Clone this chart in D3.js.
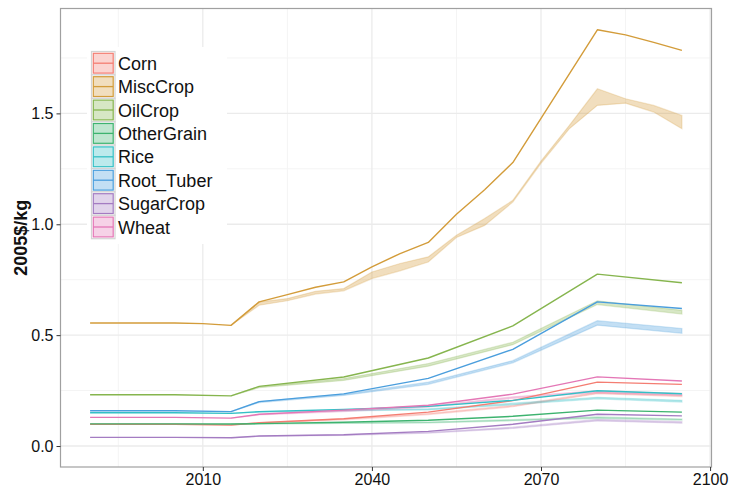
<!DOCTYPE html>
<html>
<head>
<meta charset="utf-8">
<script src="https://cdn.jsdelivr.net/npm/d3@7"></script>
<style>
  html, body { margin: 0; padding: 0; background: #fff; }
  svg { display: block; font-family: "Liberation Sans", Arial, Helvetica, sans-serif; }
</style>
</head>
<body>
<svg id="chart" width="731" height="491"></svg>
<script>
// Crop categories and their colours
const crops = ["Corn", "MiscCrop", "OilCrop", "OtherGrain", "Rice", "Root_Tuber", "SugarCrop", "Wheat"];
const colors = ["#F47D72", "#D39C3A", "#86B54E", "#3DB36F", "#34C0C6", "#4A9EDD", "#A47CC2", "#E477B6"];

// Reference-scenario price paths (2005$/kg)
const years = [1990, 2005, 2015, 2020, 2035, 2050, 2065, 2080, 2095];
const corn       = [0.098, 0.098, 0.095, 0.105, 0.123, 0.153, 0.205, 0.288, 0.278];
const oilCrop    = [0.231, 0.231, 0.226, 0.269, 0.311, 0.397, 0.542, 0.775, 0.736];
const otherGrain = [0.100, 0.100, 0.099, 0.101, 0.107, 0.116, 0.134, 0.162, 0.153];
const rice       = [0.150, 0.150, 0.147, 0.155, 0.165, 0.179, 0.206, 0.249, 0.236];
const rootTuber  = [0.159, 0.159, 0.155, 0.200, 0.235, 0.305, 0.436, 0.650, 0.620];
const sugarCrop  = [0.039, 0.039, 0.037, 0.045, 0.051, 0.066, 0.098, 0.143, 0.136];
const wheat      = [0.129, 0.129, 0.126, 0.143, 0.162, 0.184, 0.234, 0.312, 0.293];

const miscYears = [1990, 2005, 2010, 2015, 2020, 2025, 2030, 2035, 2040, 2045, 2050, 2055, 2060, 2065, 2080, 2085, 2090, 2095];
const miscCrop  = [0.555, 0.555, 0.552, 0.544, 0.650, 0.683, 0.716, 0.740, 0.808, 0.868, 0.918, 1.045, 1.156, 1.278, 1.877, 1.854, 1.820, 1.784];

// Policy-scenario ranges (low / high)
const bandYears = [2015, 2020, 2035, 2050, 2065, 2080, 2095];
const cornLo       = [0.095, 0.103, 0.118, 0.142, 0.177, 0.236, 0.223];
const cornHi       = [0.095, 0.105, 0.122, 0.147, 0.183, 0.243, 0.230];
const oilCropLo    = [0.226, 0.263, 0.296, 0.360, 0.457, 0.638, 0.595];
const oilCropHi    = [0.226, 0.268, 0.304, 0.372, 0.468, 0.655, 0.612];
const otherGrainLo = [0.099, 0.099, 0.102, 0.104, 0.114, 0.125, 0.117];
const otherGrainHi = [0.099, 0.101, 0.105, 0.108, 0.119, 0.131, 0.122];
const riceLo       = [0.147, 0.152, 0.158, 0.163, 0.186, 0.213, 0.198];
const riceHi       = [0.147, 0.155, 0.162, 0.168, 0.193, 0.220, 0.206];
const rootTuberLo  = [0.155, 0.196, 0.228, 0.278, 0.375, 0.545, 0.508];
const rootTuberHi  = [0.155, 0.200, 0.234, 0.288, 0.385, 0.565, 0.530];
const sugarCropLo  = [0.037, 0.044, 0.048, 0.058, 0.079, 0.113, 0.103];
const sugarCropHi  = [0.037, 0.045, 0.050, 0.062, 0.085, 0.120, 0.110];
const wheatLo      = [0.126, 0.140, 0.155, 0.175, 0.215, 0.240, 0.228];
const wheatHi      = [0.126, 0.143, 0.160, 0.180, 0.222, 0.250, 0.238];

const miscBandYears = [2015, 2020, 2025, 2030, 2035, 2040, 2045, 2050, 2055, 2060, 2065, 2070, 2075, 2080, 2085, 2090, 2095];
const miscCropLo = [0.544, 0.635, 0.655, 0.685, 0.700, 0.755, 0.790, 0.830, 0.940, 0.995, 1.100, 1.275, 1.430, 1.536, 1.546, 1.506, 1.431];
const miscCropHi = [0.544, 0.650, 0.665, 0.698, 0.710, 0.785, 0.823, 0.853, 0.950, 1.026, 1.108, 1.285, 1.445, 1.611, 1.566, 1.536, 1.491];

// Axis ticks
const xMajor = [2010, 2040, 2070, 2100];
const xMinor = [1995, 2025, 2055, 2085];
const yMajor = [0.0, 0.5, 1.0, 1.5];
const yMinor = [0.25, 0.75, 1.25, 1.75];
const yTitle = "2005$/kg";

const series = [
  { name: "Corn",       yrs: years,     v: corn,       by: bandYears,     lo: cornLo,       hi: cornHi },
  { name: "MiscCrop",   yrs: miscYears, v: miscCrop,   by: miscBandYears, lo: miscCropLo,   hi: miscCropHi },
  { name: "OilCrop",    yrs: years,     v: oilCrop,    by: bandYears,     lo: oilCropLo,    hi: oilCropHi },
  { name: "OtherGrain", yrs: years,     v: otherGrain, by: bandYears,     lo: otherGrainLo, hi: otherGrainHi },
  { name: "Rice",       yrs: years,     v: rice,       by: bandYears,     lo: riceLo,       hi: riceHi },
  { name: "Root_Tuber", yrs: years,     v: rootTuber,  by: bandYears,     lo: rootTuberLo,  hi: rootTuberHi },
  { name: "SugarCrop",  yrs: years,     v: sugarCrop,  by: bandYears,     lo: sugarCropLo,  hi: sugarCropHi },
  { name: "Wheat",      yrs: years,     v: wheat,      by: bandYears,     lo: wheatLo,      hi: wheatHi }
];

const svg = d3.select("#chart");
const P = { left: 60.5, right: 711.5, top: 8.5, bottom: 467 };

const x = d3.scaleLinear().domain([1984.75, 2100.25]).range([P.left, P.right]);
const y = d3.scaleLinear().domain([-0.0946, 1.973]).range([P.bottom, P.top]);
const color = d3.scaleOrdinal().domain(crops).range(colors);

// Panel background and grid
svg.append("rect").attr("x", P.left).attr("y", P.top)
  .attr("width", P.right - P.left).attr("height", P.bottom - P.top).attr("fill", "#fff");

const grid = svg.append("g");
grid.selectAll(".xmin").data(xMinor).join("line")
  .attr("x1", d => x(d)).attr("x2", d => x(d)).attr("y1", P.top).attr("y2", P.bottom)
  .attr("stroke", "#F4F4F4").attr("stroke-width", 1);
grid.selectAll(".ymin").data(yMinor).join("line")
  .attr("x1", P.left).attr("x2", P.right).attr("y1", d => y(d)).attr("y2", d => y(d))
  .attr("stroke", "#F4F4F4").attr("stroke-width", 1);
grid.selectAll(".xmaj").data(xMajor).join("line")
  .attr("x1", d => x(d)).attr("x2", d => x(d)).attr("y1", P.top).attr("y2", P.bottom)
  .attr("stroke", "#EBEBEB").attr("stroke-width", 1.3);
grid.selectAll(".ymaj").data(yMajor).join("line")
  .attr("x1", P.left).attr("x2", P.right).attr("y1", d => y(d)).attr("y2", d => y(d))
  .attr("stroke", "#EBEBEB").attr("stroke-width", 1.3);

// Ranges
const area = d3.area().x(d => x(d.yr)).y0(d => y(d.lo)).y1(d => y(d.hi));
const line = d3.line().x(d => x(d.yr)).y(d => y(d.v));

const bands = svg.append("g");
series.forEach(s => {
  const pts = s.by.map((yr, i) => ({ yr, lo: s.lo[i], hi: s.hi[i] }));
  bands.append("path").datum(pts).attr("d", area)
    .attr("fill", color(s.name)).attr("fill-opacity", 0.33)
    .attr("stroke", color(s.name)).attr("stroke-opacity", 0.25).attr("stroke-width", 1.2);
});

// Reference lines
const lines = svg.append("g");
series.forEach(s => {
  const pts = s.yrs.map((yr, i) => ({ yr, v: s.v[i] }));
  lines.append("path").datum(pts).attr("d", line)
    .attr("fill", "none").attr("stroke", color(s.name)).attr("stroke-width", 1.4)
    .attr("stroke-linejoin", "round");
});

// Panel border
svg.append("rect").attr("x", P.left).attr("y", P.top)
  .attr("width", P.right - P.left).attr("height", P.bottom - P.top)
  .attr("fill", "none").attr("stroke", "#A0A0A0").attr("stroke-width", 1.2);

// Axes
const xAxis = svg.append("g").attr("transform", `translate(0,${P.bottom})`)
  .call(d3.axisBottom(x).tickValues(xMajor).tickFormat(d3.format("d")).tickSize(4).tickPadding(3));
const yAxis = svg.append("g").attr("transform", `translate(${P.left},0)`)
  .call(d3.axisLeft(y).tickValues(yMajor).tickFormat(d3.format(".1f")).tickSize(4).tickPadding(3));
[xAxis, yAxis].forEach(g => {
  g.select(".domain").remove();
  g.selectAll(".tick line").attr("stroke", "#333").attr("stroke-width", 1);
  g.selectAll(".tick text").attr("fill", "#111").style("font-size", "16px")
    .style("font-family", "'Liberation Sans', Arial, sans-serif");
});

svg.append("text")
  .attr("transform", `translate(21,${(P.top + P.bottom) / 2}) rotate(-90)`)
  .attr("text-anchor", "middle")
  .attr("dominant-baseline", "central")
  .style("font-size", "18px").style("font-weight", "bold").attr("fill", "#111")
  .text(yTitle);

// Legend
const lg = svg.append("g");
const keyX = 91.5, keyY = 51.5, keyW = 23.5, keyH = 23.4;
lg.append("rect").attr("x", 87).attr("y", 47).attr("width", 140).attr("height", 197).attr("fill", "#fff");
crops.forEach((c, i) => {
  const ky = keyY + i * keyH;
  lg.append("rect").attr("x", keyX).attr("y", ky).attr("width", keyW).attr("height", keyH)
    .attr("fill", "#fff").attr("stroke", "#D4D4D4").attr("stroke-width", 1.2);
  lg.append("rect").attr("x", keyX + 1.8).attr("y", ky + 1.8).attr("width", keyW - 3.6).attr("height", keyH - 3.6)
    .attr("fill", color(c)).attr("fill-opacity", 0.33)
    .attr("stroke", color(c)).attr("stroke-width", 1.2);
  lg.append("line").attr("x1", keyX + 1.8).attr("x2", keyX + keyW - 1.8)
    .attr("y1", ky + keyH / 2).attr("y2", ky + keyH / 2)
    .attr("stroke", color(c)).attr("stroke-width", 1.3);
  lg.append("text").attr("x", keyX + keyW + 3).attr("y", ky + keyH / 2 + 0.5)
    .attr("dominant-baseline", "central")
    .style("font-size", "18px").attr("fill", "#111").text(c);
});
</script>
</body>
</html>
